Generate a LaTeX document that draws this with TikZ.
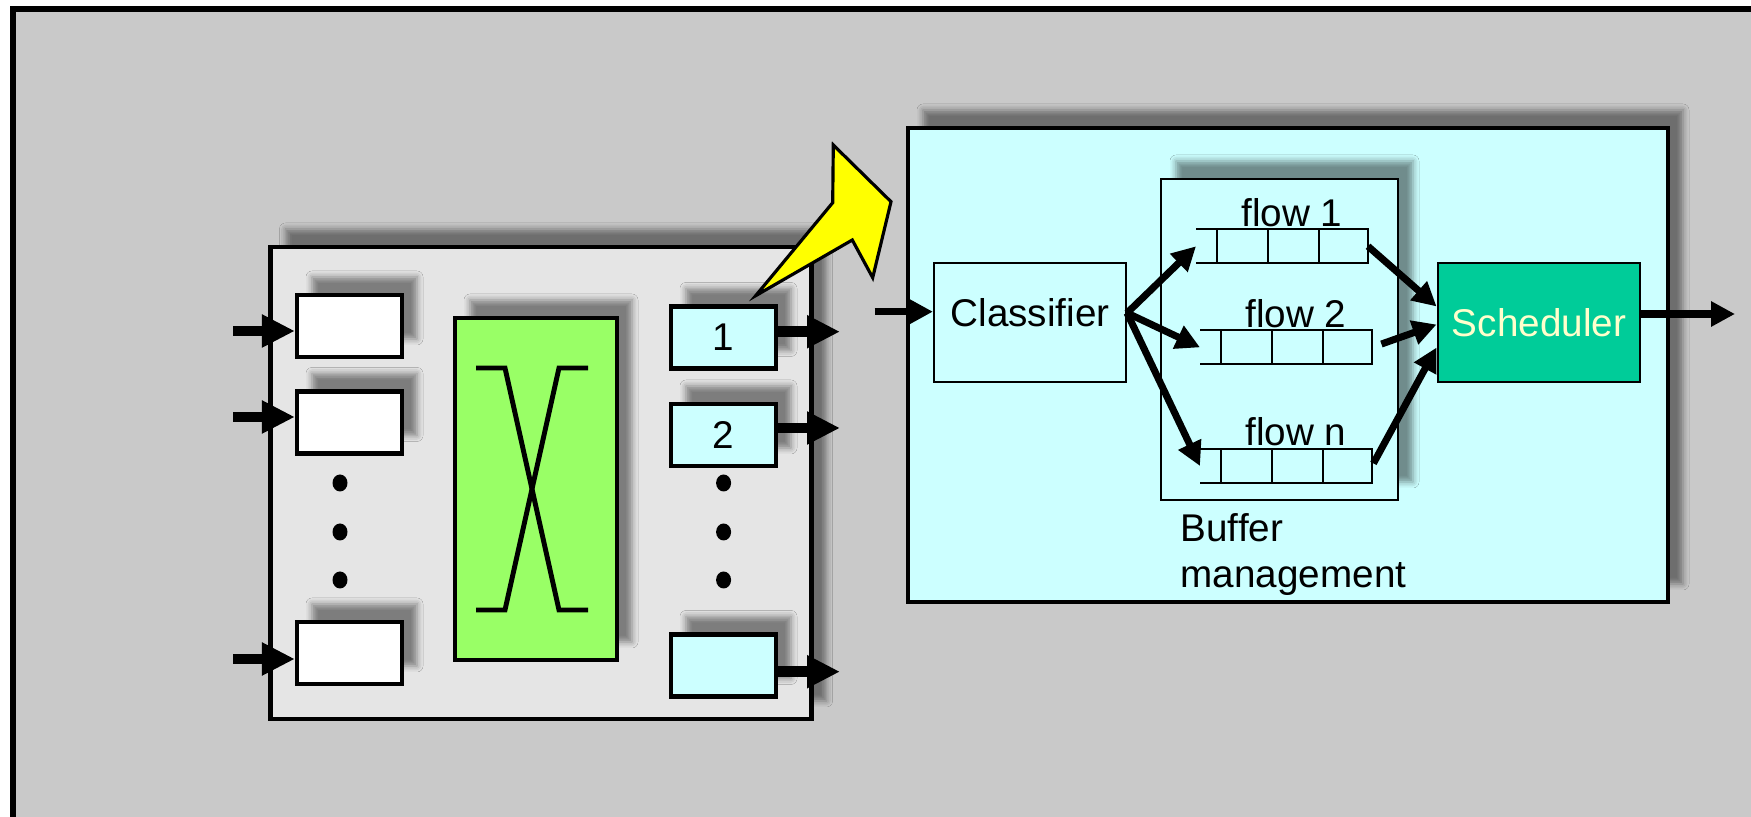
\documentclass[tikz,border=0pt]{standalone}
\usepackage{fontspec}
\setmainfont{Liberation Sans}
\usetikzlibrary{arrows.meta, positioning, calc, shadows.blur}
\definecolor{panelgray}{HTML}{C9C9C9}
\definecolor{switchgray}{HTML}{E5E5E5}
\definecolor{pktcyan}{HTML}{CCFFFF}
\definecolor{fabricgreen}{HTML}{99FF66}
\definecolor{schedgreen}{HTML}{00CC99}
\definecolor{schedtext}{HTML}{FFFFCC}
\definecolor{boltyellow}{HTML}{FFFF00}

\tikzset{
  softshadow/.style={blur shadow={shadow xshift=0.15cm, shadow yshift=0.18cm,
      shadow blur radius=0.06cm, shadow opacity=45}},
  portbox/.style={draw, line width=1.2pt, minimum width=1.05cm,
      minimum height=0.62cm, inner sep=0pt, softshadow},
  thickarrow/.style={line width=3pt, -{Triangle[length=3.3mm, width=3.1mm]}},
  flowarrow/.style={line width=2pt, -{Triangle[length=2.4mm, width=2.4mm]}},
  queueline/.style={line width=0.6pt},
  flowqueue/.pic={
    \draw[queueline] (0,0.17) -- (1.72,0.17) -- (1.72,-0.17) -- (0,-0.17);
    \foreach \qx in {0.21,0.72,1.23}
      \draw[queueline] (\qx,0.17) -- (\qx,-0.17);
    \coordinate (-in) at (0,0);
    \coordinate (-out) at (1.72,0);
    \node[anchor=base, inner sep=0pt] (-label) at (0.96,0.2) {#1};
  },
}

\begin{document}
\begin{tikzpicture}[
    every node/.style={font=\fontsize{11}{13}\selectfont},
  ]
  \useasboundingbox (0,0) rectangle (17.51,8.17);

  % Panel background
  \fill[white] (0,0) rectangle (17.51,8.17);
  \fill[panelgray] (0.13,0) rectangle (17.51,8.08);
  \draw[line width=1.7pt] (0.13,0) -- (0.13,8.08) -- (17.51,8.08);

  % === Switch ===
  \node[draw, fill=switchgray, line width=1.2pt, minimum width=5.41cm,
        minimum height=4.72cm, softshadow] (swbox) at (5.41,3.34) {};

  % Switch fabric
  \node[draw, fill=fabricgreen, line width=1.2pt, minimum width=1.62cm,
        minimum height=3.42cm, softshadow] (xbar) at (5.36,3.28) {};
  \draw[line width=1.4pt] (4.76,4.49) -- (5.05,4.49) -- (5.59,2.07) -- (5.88,2.07);
  \draw[line width=1.4pt] (5.88,4.49) -- (5.59,4.49) -- (5.05,2.07) -- (4.76,2.07);

  % Input buffers
  \foreach \name/\y in {in1/4.91, in2/3.945, in3/1.64}
    \node[portbox, fill=white] (\name) at (3.495,\y) {};

  % Output buffers
  \node[portbox, fill=pktcyan] (out1) at (7.235,4.795) {1};
  \node[portbox, fill=pktcyan] (out2) at (7.235,3.82) {2};
  \node[portbox, fill=pktcyan] (out3) at (7.235,1.515) {};

  % Port arrows
  \coordinate (feed1) at (2.33,4.86);
  \coordinate (feed2) at (2.33,4.00);
  \coordinate (feed3) at (2.33,1.58);
  \coordinate (drain1) at (8.40,4.853);
  \coordinate (drain2) at (8.40,3.89);
  \coordinate (drain3) at (8.40,1.453);
  \foreach \i in {1,2,3} {
    \draw[thickarrow] (feed\i) -- (feed\i -| in\i.west);
    \draw[thickarrow] (drain\i -| out\i.east) -- (drain\i);
  }

  % Dots
  \foreach \y in {3.34,2.85,2.37} {
    \fill (3.40,\y) ellipse (0.075 and 0.085);
    \fill (7.236,\y) ellipse (0.075 and 0.085);
  }

  % Zoom callout
  \filldraw[fill=boltyellow, line width=0.9pt]
    (7.557,5.213) -- (8.327,6.143) -- (8.333,6.72) -- (8.91,6.153)
    -- (8.727,5.393) -- (8.523,5.77) -- cycle;

  % === Output port detail ===
  \node[draw, fill=pktcyan, line width=0.9pt, minimum width=7.60cm,
        minimum height=4.74cm, softshadow] (bigbox) at (12.88,4.52) {};
  \node[draw, fill=pktcyan, line width=0.7pt, minimum width=2.37cm,
        minimum height=3.21cm, softshadow] (bufmgr) at (12.795,4.775) {};

  \node[draw, fill=pktcyan, line width=0.6pt, minimum width=1.92cm,
        minimum height=1.19cm, text depth=0.2cm] (cls) at (10.30,4.945) {Classifier};
  \node[draw, fill=schedgreen, text=schedtext, line width=0.8pt,
        minimum width=2.02cm, minimum height=1.19cm] (sch) at (15.39,4.945) {Scheduler};

  % Flow queues
  \pic (q1) at (11.96,5.707) {flowqueue={flow 1}};
  \pic (q2) at (12.00,4.696) {flowqueue={flow 2}};
  \pic (q3) at (12.00,3.51) {flowqueue={flow n}};

  \node[anchor=north west, align=left, inner sep=0pt] (bmlabel) at (11.80,3.04)
    {Buffer\\management};

  % Packet path
  \coordinate (pktin) at (8.745,5.053);
  \coordinate (egress) at (17.35,5.03);
  \coordinate (fork) at ([yshift=0.095cm]cls.east);
  \draw[flowarrow] (pktin) -- (pktin -| cls.west);
  \foreach \q in {q1,q2,q3}
    \draw[flowarrow] (fork) -- (\q-in);
  \draw[flowarrow] (q1-out) -- ([yshift=0.16cm]sch.west);
  \draw[flowarrow, shorten <=0.1cm] (q2-out) -- ([yshift=-0.02cm]sch.west);
  \draw[flowarrow, shorten <=0.03cm] (q3-out) -- ([yshift=-0.25cm]sch.west);
  \draw[flowarrow] (egress -| sch.east) -- (egress);

\end{tikzpicture}
\end{document}
